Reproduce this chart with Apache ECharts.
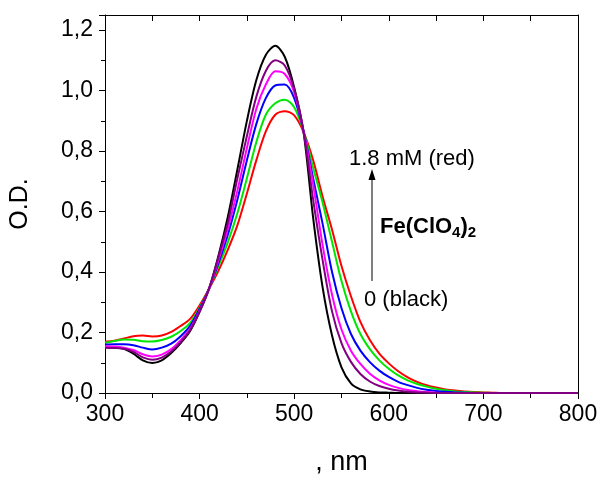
<!DOCTYPE html>
<html>
<head>
<meta charset="utf-8">
<script src="https://cdn.jsdelivr.net/npm/echarts@6/dist/echarts.min.js"></script>
<style>
html,body{margin:0;padding:0;background:#fff;}
#chart{width:603px;height:481px;}
</style>
</head>
<body>
<div id="chart"></div>
<script>
// wavelengths, nm (300..800 step 10)
const wavelengths = [300,310,320,330,340,350,360,370,380,390,400,410,420,430,440,450,460,470,480,490,500,510,520,530,540,550,560,570,580,590,600,610,620,630,640,650,660,670,680,690,700,710,720,730,740,750,760,770,780,790,800];

const odBlack   = [0.152,0.150,0.146,0.130,0.108,0.099,0.108,0.132,0.165,0.205,0.268,0.345,0.455,0.585,0.740,0.900,1.035,1.118,1.148,1.112,1.010,0.860,0.580,0.350,0.190,0.085,0.032,0.012,0.005,0.002,0.001,0,0,0,0,0,0,0,0,0,0,0,0,0,0,0,0,0,0,0,0];
const odPurple  = [0.150,0.149,0.146,0.136,0.118,0.110,0.117,0.137,0.168,0.208,0.270,0.345,0.450,0.565,0.710,0.850,0.980,1.065,1.100,1.083,1.005,0.862,0.640,0.440,0.270,0.165,0.103,0.063,0.038,0.023,0.014,0.008,0.004,0.002,0.001,0,0,0,0,0,0,0,0,0,0,0,0,0,0,0,0];
const odMagenta = [0.155,0.154,0.150,0.142,0.128,0.121,0.127,0.145,0.175,0.213,0.272,0.345,0.440,0.545,0.670,0.810,0.940,1.020,1.064,1.055,0.995,0.863,0.690,0.490,0.325,0.210,0.140,0.096,0.064,0.042,0.027,0.017,0.010,0.006,0.003,0.001,0,0,0,0,0,0,0,0,0,0,0,0,0,0,0];
const odBlue    = [0.160,0.161,0.161,0.158,0.150,0.144,0.150,0.163,0.188,0.222,0.278,0.345,0.430,0.525,0.640,0.770,0.890,0.975,1.017,1.020,0.975,0.865,0.710,0.560,0.400,0.280,0.195,0.140,0.102,0.074,0.053,0.037,0.026,0.017,0.011,0.007,0.004,0.002,0.001,0,0,0,0,0,0,0,0,0,0,0,0];
const odGreen   = [0.166,0.172,0.177,0.176,0.171,0.170,0.175,0.186,0.205,0.232,0.282,0.345,0.420,0.500,0.595,0.710,0.830,0.920,0.958,0.970,0.945,0.865,0.745,0.630,0.500,0.370,0.270,0.195,0.145,0.108,0.080,0.058,0.042,0.030,0.021,0.014,0.009,0.005,0.003,0.002,0.001,0,0,0,0,0,0,0,0,0,0];
const odRed     = [0.170,0.173,0.180,0.188,0.190,0.187,0.190,0.202,0.222,0.245,0.290,0.345,0.405,0.475,0.555,0.660,0.770,0.865,0.920,0.932,0.918,0.862,0.770,0.650,0.540,0.420,0.320,0.235,0.175,0.130,0.098,0.072,0.052,0.037,0.026,0.018,0.012,0.008,0.005,0.003,0.002,0.001,0,0,0,0,0,0,0,0,0];

const xTicks = [300,400,500,600,700,800];
const yTicks = [0,0.2,0.4,0.6,0.8,1.0,1.2];

const seriesDefs = [
  {name:'0 (black)', color:'#000000', values: odBlack},
  {name:'red', color:'#ff0000', values: odRed},
  {name:'green', color:'#00e600', values: odGreen},
  {name:'blue', color:'#0000ff', values: odBlue},
  {name:'magenta', color:'#ff00ff', values: odMagenta},
  {name:'purple', color:'#800080', values: odPurple}
];

const FONT = "'Liberation Sans', Arial, Helvetica, sans-serif";
const chart = echarts.init(document.getElementById('chart'), null, {renderer:'canvas'});

function yFmt(v){
  for (const t of yTicks) if (Math.abs(v - t) < 1e-6) return t.toFixed(1).replace('.', ',');
  return '';
}
function xFmt(v){
  return xTicks.indexOf(Math.round(v)) >= 0 ? String(Math.round(v)) : '';
}

const axisLineStyle = {show:true, onZero:false, lineStyle:{color:'#000', width:1}};

chart.setOption({
  animation:false,
  backgroundColor:'#fff',
  grid:{left:101, right:25, top:15, bottom:88, containLabel:false},
  xAxis:[{
    type:'value', min:300, max:800, interval:100, position:'bottom',
    axisLine:axisLineStyle,
    axisTick:{show:true, inside:false, length:6, lineStyle:{color:'#000', width:1}},
    minorTick:{show:true, splitNumber:2, length:5, lineStyle:{color:'#000', width:1}},
    splitLine:{show:false},
    axisLabel:{color:'#000', fontSize:23, fontFamily:FONT, margin:10, formatter:xFmt},
    name:', nm', nameLocation:'middle', nameGap:56,
    nameTextStyle:{color:'#000', fontSize:27, fontFamily:FONT}
  },{
    type:'value', min:300, max:800, interval:100, position:'top',
    axisLine:axisLineStyle,
    axisTick:{show:true, inside:true, length:6, lineStyle:{color:'#000', width:1}},
    minorTick:{show:true, splitNumber:2, length:6, lineStyle:{color:'#000', width:1}},
    splitLine:{show:false},
    axisLabel:{show:false}
  }],
  yAxis:[{
    type:'value', min:0, max:1.25, interval:0.2, position:'left',
    axisLine:axisLineStyle,
    axisTick:{show:true, inside:false, length:6, lineStyle:{color:'#000', width:1}},
    minorTick:{show:true, splitNumber:2, length:4, lineStyle:{color:'#000', width:1}},
    splitLine:{show:false},
    axisLabel:{color:'#000', fontSize:23, fontFamily:FONT, margin:12, formatter:yFmt, showMaxLabel:false},
    name:'O.D.', nameLocation:'middle', nameGap:72, nameRotate:90,
    nameTextStyle:{color:'#000', fontSize:25, fontFamily:FONT}
  },{
    type:'value', min:0, max:1.25, interval:0.2, position:'right',
    axisLine:axisLineStyle,
    axisTick:{show:false}, minorTick:{show:false},
    splitLine:{show:false}, axisLabel:{show:false}
  }],
  series: seriesDefs.map(s => ({
    name:s.name, type:'line', xAxisIndex:0, yAxisIndex:0,
    data: wavelengths.map((w,i) => [w, s.values[i]]),
    showSymbol:false, symbol:'none', smooth:0.3,
    lineStyle:{color:s.color, width:2},
    itemStyle:{color:s.color},
    clip:true
  })),
  graphic:[
    {type:'line', shape:{x1:372, y1:281, x2:372, y2:178}, style:{stroke:'#000', lineWidth:1}},
    {type:'polygon', shape:{points:[[372,169],[368.5,180],[375.5,180]]}, style:{fill:'#000'}},
    {type:'text', x:349, y:159, style:{text:'1.8 mM (red)', fill:'#000', font:'22px ' + FONT, verticalAlign:'middle', align:'left'}},
    {type:'text', x:380, y:227, style:{
      text:'{b|Fe(ClO}{s|4}{b|)}{s|2}',
      verticalAlign:'middle', align:'left',
      rich:{
        b:{fontSize:22, fontWeight:'bold', fontFamily:FONT, fill:'#000', verticalAlign:'middle', lineHeight:26},
        s:{fontSize:15, fontWeight:'bold', fontFamily:FONT, fill:'#000', verticalAlign:'bottom', lineHeight:26, padding:[12,0,0,0]}
      }
    }},
    {type:'text', x:364, y:300, style:{text:'0 (black)', fill:'#000', font:'22px ' + FONT, verticalAlign:'middle', align:'left'}}
  ]
});
</script>
</body>
</html>
